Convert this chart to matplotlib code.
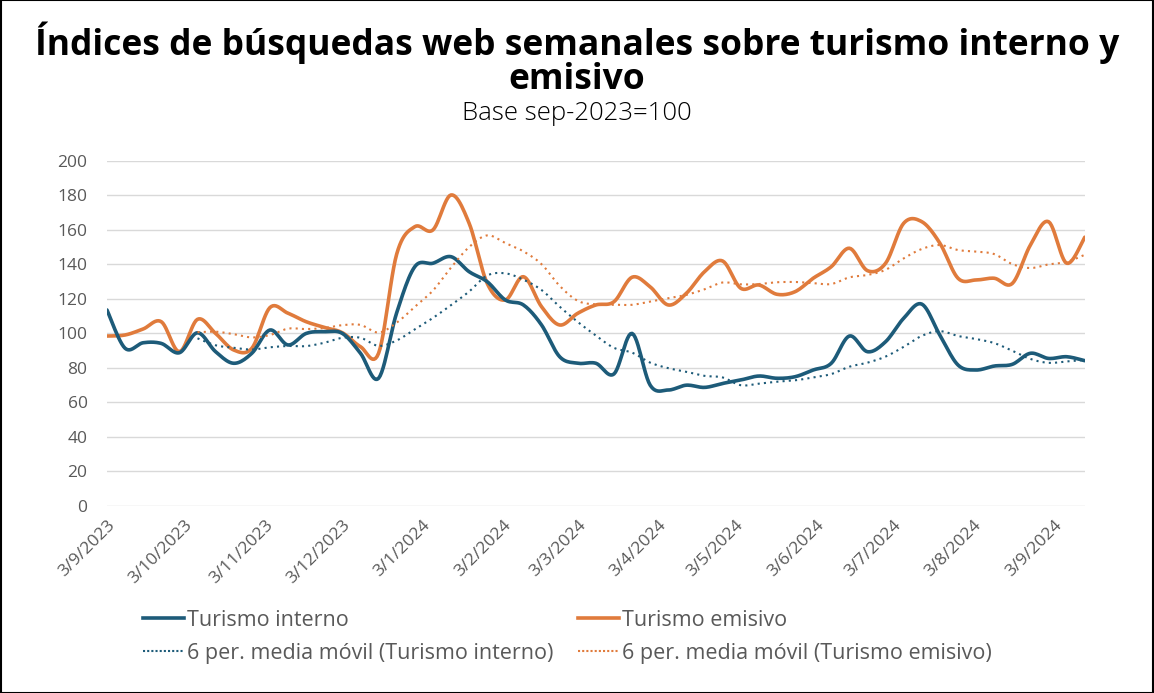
import numpy as np
import pandas as pd
import matplotlib
matplotlib.use("Agg")
import matplotlib.pyplot as plt
import matplotlib.dates as mdates
from matplotlib.lines import Line2D

# ---- data ----
start_date = "2023-09-03"
n_weeks = 55
turismo_interno = [113.6, 91.4, 94.6, 94.2, 88.8, 100.4, 89.4, 82.7, 88.5, 102.0,
                   93.3, 100.0, 101.0, 100.0, 88.5, 74.0, 112.0, 138.7, 140.7, 144.5,
                   135.8, 130.0, 119.4, 116.5, 104.9, 86.5, 82.7, 82.7, 76.5, 100.0,
                   70.0, 67.2, 70.0, 68.7, 71.0, 73.0, 75.3, 74.0, 74.9, 78.8,
                   82.7, 98.5, 89.4, 95.2, 108.8, 117.0, 99.0, 81.7, 78.8, 81.1,
                   82.1, 88.5, 85.5, 86.5, 84.2]
turismo_emisivo = [98.5, 99.1, 102.6, 106.8, 89.4, 108.2, 100.0, 90.4, 91.4, 115.0,
                   111.7, 106.8, 103.5, 100.4, 92.3, 88.5, 146.0, 161.9, 160.0, 180.3,
                   163.9, 129.0, 119.4, 132.9, 115.5, 104.9, 111.7, 116.5, 118.4, 132.6,
                   127.0, 116.5, 123.3, 135.8, 142.0, 126.2, 128.1, 122.7, 124.2, 132.0,
                   138.7, 149.4, 136.4, 140.7, 163.9, 164.8, 152.3, 132.0, 131.0, 132.0,
                   129.0, 151.3, 164.8, 140.7, 155.8]
ma_window = 6
y_ticks = [0, 20, 40, 60, 80, 100, 120, 140, 160, 180, 200]
labels = ["Turismo interno", "Turismo emisivo",
          "6 per. media móvil (Turismo interno)", "6 per. media móvil (Turismo emisivo)"]
title = "Índices de búsquedas web semanales sobre turismo interno y\nemisivo"
subtitle = "Base sep-2023=100"

BLUE = "#1D5B79"
ORANGE = "#E07B3C"
GRAY = "#595959"

dates = pd.date_range(start_date, periods=n_weeks, freq="7D")
df = pd.DataFrame({"int": turismo_interno, "emi": turismo_emisivo}, index=dates)
ma_int = df["int"].rolling(ma_window).mean()
ma_emi = df["emi"].rolling(ma_window).mean()


def smooth(x, y, steps=12):
    """Catmull-Rom style smoothing (like Excel smoothed lines)."""
    x = np.asarray(x, float)
    y = np.asarray(y, float)
    xs, ys = [], []
    n = len(x)
    for i in range(n - 1):
        p0 = (x[i - 1], y[i - 1]) if i > 0 else (x[i], y[i])
        p1 = (x[i], y[i])
        p2 = (x[i + 1], y[i + 1])
        p3 = (x[i + 2], y[i + 2]) if i + 2 < n else (x[i + 1], y[i + 1])
        c1 = (p1[0] + (p2[0] - p0[0]) / 6, p1[1] + (p2[1] - p0[1]) / 6)
        c2 = (p2[0] - (p3[0] - p1[0]) / 6, p2[1] - (p3[1] - p1[1]) / 6)
        t = np.linspace(0, 1, steps, endpoint=(i == n - 2))
        bx = (1 - t) ** 3 * p1[0] + 3 * (1 - t) ** 2 * t * c1[0] + 3 * (1 - t) * t ** 2 * c2[0] + t ** 3 * p2[0]
        by = (1 - t) ** 3 * p1[1] + 3 * (1 - t) ** 2 * t * c1[1] + 3 * (1 - t) * t ** 2 * c2[1] + t ** 3 * p2[1]
        xs.append(bx)
        ys.append(by)
    return np.concatenate(xs), np.concatenate(ys)


plt.rcParams["font.family"] = ["Open Sans", "DejaVu Sans"]

fig = plt.figure(figsize=(11.54, 6.93), dpi=100)
ax = fig.add_axes([0.0927, 0.270, 0.8473, 0.4977])

xn = mdates.date2num(dates.to_pydatetime())
sx, sy = smooth(xn, df["int"].values)
ax.plot(sx, sy, color=BLUE, lw=2.6, solid_capstyle="round", zorder=4)
sx, sy = smooth(xn, df["emi"].values)
ax.plot(sx, sy, color=ORANGE, lw=2.6, solid_capstyle="round", zorder=3)
m = ~ma_int.isna().values
sx, sy = smooth(xn[m], ma_int.values[m])
ax.plot(sx, sy, color=BLUE, lw=1.5, ls=(0, (1, 2)), zorder=5)
m = ~ma_emi.isna().values
sx, sy = smooth(xn[m], ma_emi.values[m])
ax.plot(sx, sy, color=ORANGE, lw=1.5, ls=(0, (1, 2)), zorder=5)

ax.set_xlim(xn[0], xn[-1])
ax.set_ylim(0, 200)
ax.set_yticks(y_ticks)
ax.grid(axis="y", color="#D9D9D9", lw=1)
ax.set_axisbelow(True)
for s in ax.spines.values():
    s.set_visible(False)

tick_dates = pd.date_range("2023-09-01", "2024-09-01", freq="MS") + pd.Timedelta(days=2)
ax.set_xticks(mdates.date2num(tick_dates.to_pydatetime()))
ax.set_xticklabels([f"{d.day}/{d.month}/{d.year}" for d in tick_dates],
                   rotation=45, ha="right", rotation_mode="anchor")
ax.tick_params(axis="both", length=0, labelsize=12.5, labelcolor=GRAY)
ax.tick_params(axis="x", pad=8)
ax.tick_params(axis="y", pad=14)

fig.text(0.5, 1 - 60 / 693, title, ha="center", va="center", fontsize=25.5,
         fontweight="bold", color="black", linespacing=0.92)
fig.text(0.5, 1 - 113 / 693, subtitle, ha="center", va="center", fontsize=18.5,
         color="black", fontweight="light")

handles = [Line2D([], [], color=BLUE, lw=2.6),
           Line2D([], [], color=BLUE, lw=1.5, ls=(0, (1, 1))),
           Line2D([], [], color=ORANGE, lw=2.6),
           Line2D([], [], color=ORANGE, lw=1.5, ls=(0, (1, 1)))]
leg = fig.legend(handles, [labels[0], labels[2], labels[1], labels[3]],
                 ncol=2, loc="upper left", bbox_to_anchor=(0.124, 1 - 610 / 693),
                 bbox_transform=fig.transFigure, frameon=False, fontsize=15.5,
                 handlelength=1.9, handletextpad=0.15, columnspacing=1.15,
                 labelspacing=0.55, borderaxespad=0, borderpad=0)
for t in leg.get_texts():
    t.set_color(GRAY)
fig.add_artist(plt.Rectangle((0.0005, 0.0005), 0.999, 0.999, transform=fig.transFigure,
                             fill=False, ec="black", lw=1.5))

fig.savefig("out.png", dpi=100)
